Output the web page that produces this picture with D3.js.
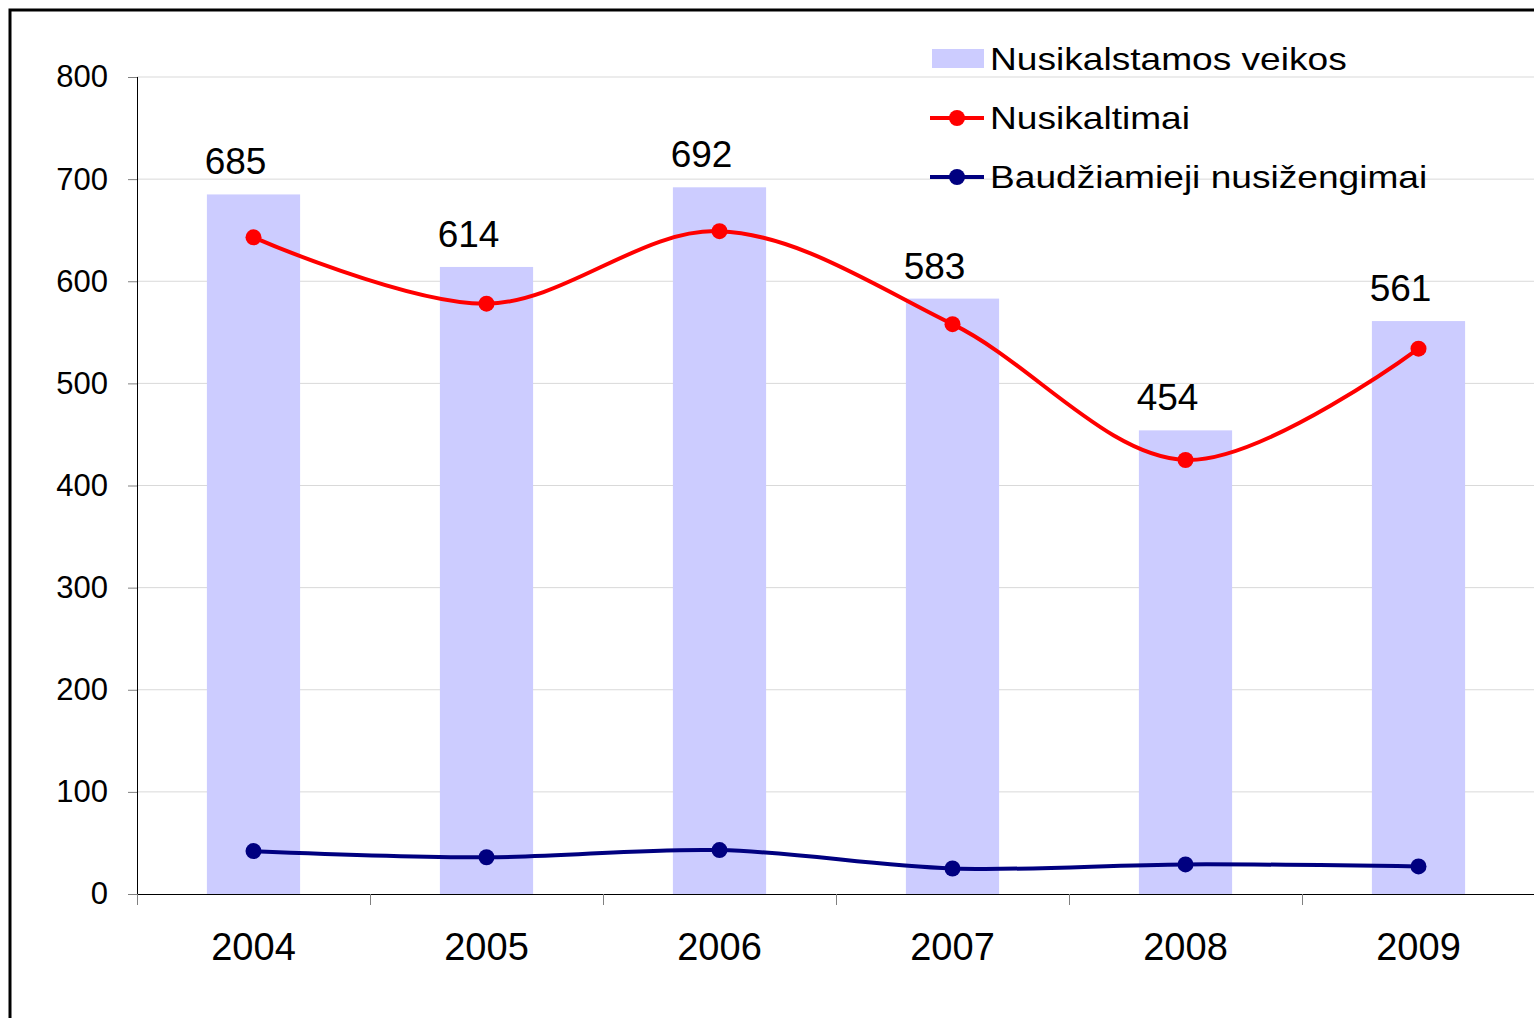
<!DOCTYPE html>
<html>
<head>
<meta charset="utf-8">
<script src="https://cdn.jsdelivr.net/npm/d3@7"></script>
<style>
  body { margin: 0; background: #fff; }
  text { font-family: "Liberation Sans", Arial, sans-serif; fill: #000; }
</style>
</head>
<body>
<div id="chart"></div>
<script>
(function() {
  var years = ['2004', '2005', '2006', '2007', '2008', '2009']
  var veikos = [685, 614, 692, 583, 454, 561]
  var nusikaltimai = [643, 578, 649, 558, 425, 534]
  var nusizengimai = [42, 36, 43, 25, 29, 27]
  var yTicks = [0, 100, 200, 300, 400, 500, 600, 700, 800]
  var seriesNames = ['Nusikalstamos veikos', 'Nusikaltimai', 'Baudžiamieji nusižengimai']

  var W = 1534, H = 1018
  var left = 137, right = 1535, top = 77, bottom = 894

  var svg = d3.select('#chart').append('svg')
    .attr('width', W).attr('height', H)

  // outer frame (right and bottom fall outside the picture)
  svg.append('rect')
    .attr('x', 10).attr('y', 10)
    .attr('width', W + 20).attr('height', H + 20)
    .attr('fill', 'none').attr('stroke', '#000').attr('stroke-width', 3)

  var x = d3.scaleBand().domain(years).range([left, right]).paddingInner(0).paddingOuter(0)
  var y = d3.scaleLinear().domain([0, 800]).range([bottom, top])
  var cx = d => x(d) + x.bandwidth() / 2

  // grid
  svg.append('g').selectAll('line')
    .data(yTicks.filter(d => d > 0))
    .enter().append('line')
    .attr('x1', left).attr('x2', right)
    .attr('y1', d => y(d)).attr('y2', d => y(d))
    .attr('stroke', '#d9d9d9').attr('stroke-width', 1)

  // bars
  var barW = x.bandwidth() * 0.4
  svg.append('g').selectAll('rect')
    .data(veikos)
    .enter().append('rect')
    .attr('x', (d, i) => cx(years[i]) - barW / 2)
    .attr('y', d => y(d))
    .attr('width', barW)
    .attr('height', d => bottom - y(d))
    .attr('fill', '#ccccff')

  // bar labels
  svg.append('g').selectAll('text')
    .data(veikos)
    .enter().append('text')
    .attr('x', (d, i) => cx(years[i]) - 18)
    .attr('y', d => y(d) - 20)
    .attr('text-anchor', 'middle')
    .attr('font-size', 37)
    .text(d => d)

  // y axis
  var yAxis = d3.axisLeft(y).tickValues(yTicks).tickSize(9).tickPadding(20)
  var gy = svg.append('g')
    .attr('transform', 'translate(' + left + ',0)')
    .call(yAxis)
  gy.select('.domain').attr('stroke', '#000').attr('d', 'M0.5,' + top + 'V' + bottom)
  gy.selectAll('.tick line').attr('stroke', '#808080')
  gy.selectAll('.tick text').attr('font-size', 31).attr('font-family', '"Liberation Sans", Arial, sans-serif').attr('fill', '#000')

  // x axis
  var xAxis = d3.axisBottom(x).tickSize(0).tickPadding(39)
  var gx = svg.append('g')
    .attr('transform', 'translate(0,' + bottom + ')')
    .call(xAxis)
  gx.select('.domain').attr('stroke', '#000').attr('d', 'M' + left + ',0.5H' + right)
  gx.selectAll('.tick text').attr('font-size', 38).attr('font-family', '"Liberation Sans", Arial, sans-serif').attr('fill', '#000')
  gx.append('g').selectAll('line')
    .data(years)
    .enter().append('line')
    .attr('x1', d => x(d) + 0.5).attr('x2', d => x(d) + 0.5)
    .attr('y1', 0).attr('y2', 11)
    .attr('stroke', '#808080')

  // lines
  var line = d3.line()
    .x((d, i) => cx(years[i]))
    .y(d => y(d))
    .curve(d3.curveCatmullRom.alpha(0.5))

  function drawSeries(values, color) {
    svg.append('path')
      .datum(values)
      .attr('d', line)
      .attr('fill', 'none')
      .attr('stroke', color)
      .attr('stroke-width', 4)
    svg.append('g').selectAll('circle')
      .data(values)
      .enter().append('circle')
      .attr('cx', (d, i) => cx(years[i]))
      .attr('cy', d => y(d))
      .attr('r', 8)
      .attr('fill', color)
  }
  drawSeries(nusikaltimai, '#ff0000')
  drawSeries(nusizengimai, '#000080')

  // legend
  var lg = svg.append('g').attr('transform', 'translate(930,59)')
  lg.append('rect').attr('x', 2).attr('y', -10).attr('width', 52).attr('height', 19).attr('fill', '#ccccff')
  var colors = ['#ff0000', '#000080']
  colors.forEach(function(c, i) {
    var yy = 59 * (i + 1)
    lg.append('line').attr('x1', 0).attr('x2', 54).attr('y1', yy).attr('y2', yy)
      .attr('stroke', c).attr('stroke-width', 4)
    lg.append('circle').attr('cx', 27).attr('cy', yy).attr('r', 8).attr('fill', c)
  })
  lg.selectAll('text.lab')
    .data(seriesNames)
    .enter().append('text')
    .attr('class', 'lab')
    .attr('transform', (d, i) => 'translate(60,' + (59 * i) + ') scale(1.16,1)')
    .attr('dy', '0.35em')
    .attr('font-size', 32)
    .text(d => d)
})()
</script>
</body>
</html>
